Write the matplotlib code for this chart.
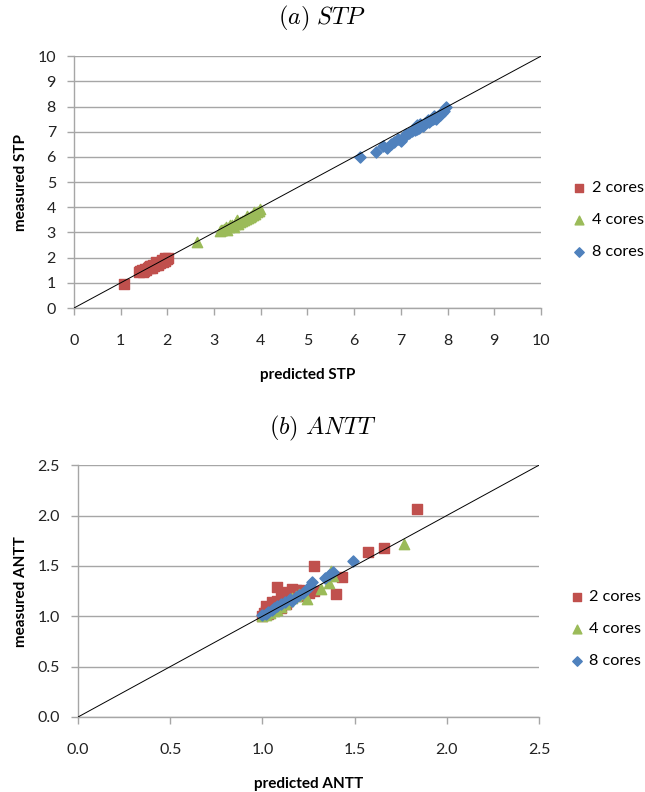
import numpy as np
import matplotlib
matplotlib.use('Agg')
import matplotlib.pyplot as plt

plt.rcParams['font.family'] = ['Lato', 'DejaVu Sans']
plt.rcParams['mathtext.fontset'] = 'cm'

# (a) STP: predicted vs measured
stp2_pred = [1.08, 1.40, 1.42, 1.45, 1.48, 1.50, 1.52, 1.55, 1.58, 1.60, 1.62, 1.65, 1.68,
             1.70, 1.72, 1.75, 1.78, 1.80, 1.82, 1.85, 1.88, 1.90, 1.92, 1.95, 1.97, 2.00,
             2.02, 1.62, 1.75, 1.88, 1.95]
stp2_meas = [0.97, 1.42, 1.45, 1.50, 1.44, 1.47, 1.55, 1.52, 1.58, 1.62, 1.57, 1.65, 1.60,
             1.70, 1.66, 1.72, 1.75, 1.70, 1.80, 1.78, 1.85, 1.82, 1.90, 1.88, 1.95, 1.96,
             1.99, 1.68, 1.82, 1.92, 2.00]
stp4_pred = [2.64, 3.12, 3.15, 3.18, 3.22, 3.25, 3.28, 3.32, 3.35, 3.38, 3.42, 3.45, 3.48,
             3.52, 3.56, 3.60, 3.64, 3.68, 3.72, 3.76, 3.80, 3.84, 3.88, 3.92, 3.96, 3.99,
             3.50, 3.70, 3.85]
stp4_meas = [2.64, 3.04, 3.10, 3.08, 3.12, 3.22, 3.10, 3.20, 3.30, 3.28, 3.22, 3.35, 3.40,
             3.35, 3.42, 3.45, 3.48, 3.55, 3.58, 3.62, 3.66, 3.70, 3.75, 3.80, 3.86, 3.94,
             3.48, 3.65, 3.82]
stp8_pred = [6.12, 6.46, 6.62, 6.70, 6.78, 6.86, 6.94, 7.00, 7.06, 7.12, 7.18, 7.24, 7.30,
             7.34, 7.38, 7.42, 7.48, 7.52, 7.56, 7.60, 7.64, 7.68, 7.72, 7.76, 7.80, 7.84,
             7.88, 7.92, 7.97, 7.35, 7.58, 7.70, 7.85]
stp8_meas = [5.98, 6.18, 6.45, 6.36, 6.52, 6.60, 6.72, 6.64, 6.80, 6.90, 6.95, 7.02, 7.08,
             7.25, 7.15, 7.30, 7.22, 7.35, 7.40, 7.38, 7.45, 7.50, 7.55, 7.52, 7.62, 7.68,
             7.74, 7.82, 7.98, 7.10, 7.48, 7.62, 7.75]

# (b) ANTT: predicted vs measured
antt2_pred = [1.00, 1.01, 1.02, 1.03, 1.04, 1.05, 1.06, 1.07, 1.08, 1.08, 1.10, 1.12, 1.14,
              1.16, 1.18, 1.20, 1.22, 1.25, 1.28, 1.28, 1.40, 1.43, 1.57, 1.66, 1.84,
              1.02, 1.05, 1.10, 1.13, 1.15, 1.20]
antt2_meas = [1.00, 1.03, 1.05, 1.02, 1.08, 1.06, 1.10, 1.12, 1.29, 1.15, 1.22, 1.20, 1.24,
              1.27, 1.26, 1.22, 1.20, 1.23, 1.50, 1.25, 1.22, 1.39, 1.64, 1.68, 2.06,
              1.10, 1.14, 1.08, 1.12, 1.18, 1.26]
antt4_pred = [1.00, 1.02, 1.04, 1.06, 1.08, 1.10, 1.12, 1.14, 1.16, 1.18, 1.20, 1.24, 1.32,
              1.36, 1.37, 1.38, 1.77]
antt4_meas = [1.00, 1.01, 1.03, 1.05, 1.06, 1.09, 1.12, 1.15, 1.18, 1.20, 1.22, 1.17, 1.27,
              1.33, 1.45, 1.40, 1.72]
antt8_pred = [1.00, 1.02, 1.03, 1.05, 1.06, 1.08, 1.10, 1.12, 1.15, 1.16, 1.18, 1.20, 1.22,
              1.24, 1.26, 1.27, 1.34, 1.36, 1.38, 1.49]
antt8_meas = [1.01, 1.02, 1.04, 1.06, 1.08, 1.10, 1.12, 1.14, 1.17, 1.15, 1.19, 1.21, 1.23,
              1.27, 1.30, 1.34, 1.38, 1.41, 1.44, 1.55]

labels = ['2 cores', '4 cores', '8 cores']
RED, GREEN, BLUE = '#C0504D', '#9BBB59', '#4F81BD'
GRID = '#A6A6A6'


def style_axes(ax, lim, step, fmt, xlabel, ylabel):
    ticks = np.arange(0, lim + step / 2, step)
    ax.set_xlim(0, lim)
    ax.set_ylim(0, lim)
    ax.set_xticks(ticks)
    ax.set_yticks(ticks)
    ax.set_xticklabels([fmt.format(t) for t in ticks])
    ax.set_yticklabels([fmt.format(t) for t in ticks])
    ax.grid(axis='y', color=GRID, linewidth=1.0)
    ax.set_axisbelow(True)
    for s in ['top', 'right']:
        ax.spines[s].set_visible(False)
    for s in ['left', 'bottom']:
        ax.spines[s].set_color(GRID)
        ax.spines[s].set_linewidth(1.0)
    ax.tick_params(colors=GRID, labelcolor='#222222', labelsize=11.5, length=5, width=1.0)
    ax.tick_params(axis='x', pad=14)
    ax.tick_params(axis='y', pad=8)
    ax.set_xlabel(xlabel, fontweight='bold', fontsize=11, labelpad=14)
    ax.set_ylabel(ylabel, fontweight='bold', fontsize=11, labelpad=7)
    ax.plot([0, lim], [0, lim], color='black', linewidth=0.7, zorder=5)
    ax.legend(loc='center left', bbox_to_anchor=(1.03, 0.35), frameon=False,
              fontsize=11.7, labelspacing=1.1, handletextpad=0.15, handlelength=1.2,
              markerscale=0.85)


fig = plt.figure(figsize=(6.45, 7.92), dpi=100)

ax1 = fig.add_axes([0.1147, 0.6111, 0.724, 0.318])
ax1.scatter(stp2_pred, stp2_meas, marker='s', s=55, color=RED, label=labels[0], zorder=3)
ax1.scatter(stp4_pred, stp4_meas, marker='^', s=55, color=GREEN, label=labels[1], zorder=3)
ax1.scatter(stp8_pred, stp8_meas, marker='D', s=32, color=BLUE, label=labels[2], zorder=3)
style_axes(ax1, 10, 1, '{:.0f}', 'predicted STP', 'measured STP')

ax2 = fig.add_axes([0.121, 0.0947, 0.7147, 0.318])
ax2.scatter(antt2_pred, antt2_meas, marker='s', s=55, color=RED, label=labels[0], zorder=3)
ax2.scatter(antt4_pred, antt4_meas, marker='^', s=55, color=GREEN, label=labels[1], zorder=3)
ax2.scatter(antt8_pred, antt8_meas, marker='D', s=32, color=BLUE, label=labels[2], zorder=3)
style_axes(ax2, 2.5, 0.5, '{:.1f}', 'predicted ANTT', 'measured ANTT')

fig.text(0.5, 0.977, r'$(a)\ STP$', ha='center', va='center', fontsize=17.5)
fig.text(0.5, 0.4596, r'$(b)\ ANTT$', ha='center', va='center', fontsize=17.5)

fig.savefig('out.png', dpi=100)
